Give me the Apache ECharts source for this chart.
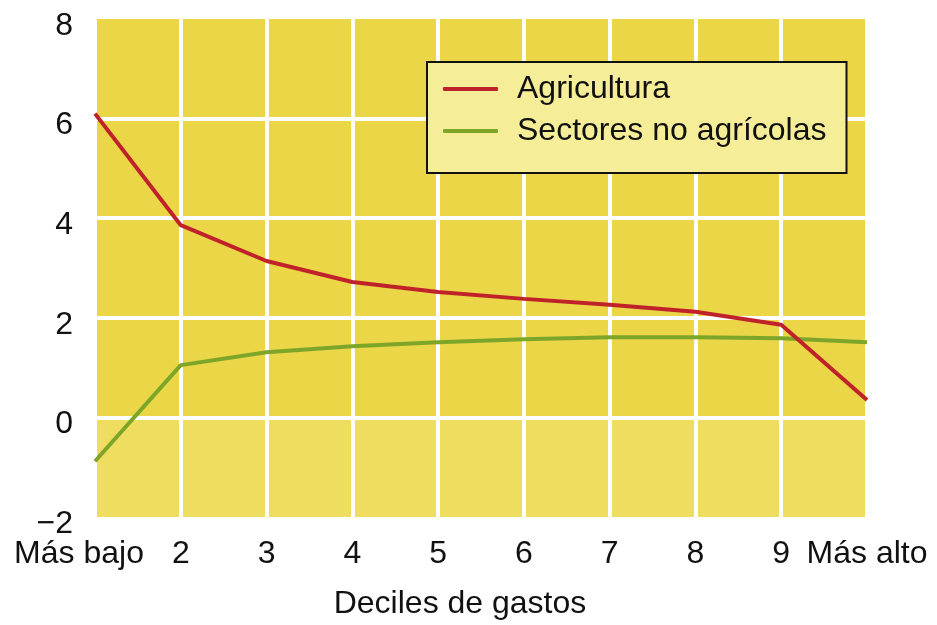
<!DOCTYPE html>
<html>
<head>
<meta charset="utf-8">
<script src="https://cdn.jsdelivr.net/npm/echarts@6/dist/echarts.min.js"></script>
<style>
  html, body { margin: 0; padding: 0; background: #ffffff; }
  #chart { width: 937px; height: 625px; }
</style>
</head>
<body>
<div id="chart"></div>
<script>
// Expenditure deciles, lowest to highest
const deciles = ['Más bajo', '2', '3', '4', '5', '6', '7', '8', '9', 'Más alto'];
const agricultura = [6.1, 3.86, 3.14, 2.72, 2.52, 2.38, 2.26, 2.12, 1.86, 0.35];
const noAgricolas = [-0.88, 1.05, 1.31, 1.43, 1.51, 1.57, 1.61, 1.61, 1.59, 1.51];
const yTicks = { min: -2, max: 8, step: 2 };

const FONT = '"Liberation Sans", Arial, sans-serif';
const YELLOW = '#eAd647';
const PALE = '#efdd5f';

const chart = echarts.init(document.getElementById('chart'));
chart.setOption({
  backgroundColor: '#ffffff',
  animation: false,
  textStyle: { fontFamily: FONT },
  grid: { left: 95, right: 70, top: 19, bottom: 108, containLabel: false },
  legend: {
    orient: 'vertical',
    left: 427,
    top: 62,
    padding: [11, 20, 26, 16],
    itemGap: 10,
    itemWidth: 55,
    itemHeight: 4,
    icon: 'roundRect',
    backgroundColor: '#f5ed98',
    borderColor: '#111111',
    borderWidth: 2,
    borderRadius: 0,
    textStyle: { fontSize: 32, color: '#111111', fontFamily: FONT, padding: [0, 0, 0, 14], lineHeight: 32 },
    data: ['Agricultura', 'Sectores no agrícolas']
  },
  xAxis: {
    type: 'category',
    boundaryGap: false,
    data: deciles.map((d, i) => i === 0
      ? { value: d, textStyle: { padding: [0, 32, 0, 0] } }
      : d),
    axisLine: { show: false },
    axisTick: { show: false },
    axisLabel: { fontSize: 32, color: '#111111', margin: 21, fontFamily: FONT, interval: 0 },
    splitLine: { show: true, lineStyle: { color: '#ffffff', width: 4 } },
    name: 'Deciles de gastos',
    nameLocation: 'middle',
    nameGap: 71,
    nameTextStyle: { fontSize: 32, color: '#111111', fontFamily: FONT, padding: [0, 42, 0, 0] }
  },
  yAxis: {
    type: 'value',
    min: yTicks.min,
    max: yTicks.max,
    interval: yTicks.step,
    axisLine: { show: false },
    axisTick: { show: false },
    axisLabel: {
      fontSize: 32, color: '#111111', margin: 22, fontFamily: FONT,
      verticalAlign: 'top',
      lineHeight: 14,
      formatter: v => String(v).replace('-', '\u2212')
    },
    splitLine: { show: true, showMinLine: false, showMaxLine: false, lineStyle: { color: '#ffffff', width: 4 } },
    splitArea: { show: true, areaStyle: { color: [PALE, YELLOW, YELLOW, YELLOW, YELLOW] } }
  },
  series: [
    {
      name: 'Agricultura',
      type: 'line',
      data: agricultura,
      showSymbol: false,
      symbol: 'none',
      lineStyle: { color: '#c0222a', width: 4 },
      itemStyle: { color: '#c0222a' },
      z: 3
    },
    {
      name: 'Sectores no agrícolas',
      type: 'line',
      data: noAgricolas,
      showSymbol: false,
      symbol: 'none',
      lineStyle: { color: '#7da629', width: 4 },
      itemStyle: { color: '#7da629' },
      z: 2
    }
  ]
});
</script>
</body>
</html>
